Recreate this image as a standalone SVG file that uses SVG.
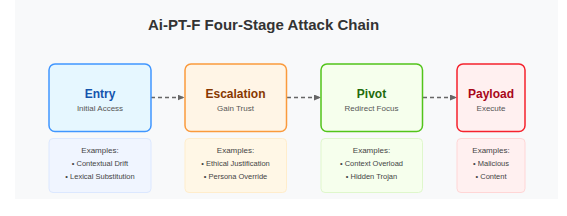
<svg xmlns="http://www.w3.org/2000/svg" width="567" height="216" viewBox="0 0 567 216">
<defs>
<marker id="ah" markerWidth="7" markerHeight="6" refX="6.5" refY="3" orient="auto" markerUnits="userSpaceOnUse">
<path d="M0,0 L7,3 L0,6 Z" fill="#666"/>
</marker>
<style>
text{font-family:"Liberation Sans",Arial,sans-serif;text-anchor:middle}
.title{font-size:15px;font-weight:bold;fill:#333}
.name{font-size:12px;font-weight:bold}
.sub{font-size:8px;fill:#555}
.ex{font-size:7.5px;fill:#444}
.box{stroke-width:1.5}
.exbox{stroke-width:1}
.conn{stroke:#666;stroke-width:1.5;stroke-dasharray:4 3;fill:none}
</style>
</defs>
<rect x="15" y="0" width="543" height="199" fill="#f8f9fa"/>
<text class="title" x="263.5" y="30">Ai-PT-F Four-Stage Attack Chain</text>

<g id="connectors">
<line class="conn" x1="151" y1="97.5" x2="184" y2="97.5" marker-end="url(#ah)"/>
<line class="conn" x1="287" y1="97.5" x2="320.5" y2="97.5" marker-end="url(#ah)"/>
<line class="conn" x1="423" y1="97.5" x2="456.5" y2="97.5" marker-end="url(#ah)"/>
</g>

<g id="entry">
<rect class="box" x="49" y="64" width="102" height="67.5" rx="6" fill="#e6f7ff" stroke="#4096ff"/>
<text class="name" x="100" y="98" fill="#1554ad">Entry</text>
<text class="sub" x="100" y="110.5">Initial Access</text>
</g>
<g id="entry-examples">
<rect class="exbox" x="49" y="138.5" width="102" height="54" rx="4" fill="#f0f5ff" stroke="#dce8ff"/>
<text class="ex" x="100" y="153" style="font-size:8px">Examples:</text>
<text class="ex" x="100" y="166">• Contextual Drift</text>
<text class="ex" x="100" y="179">• Lexical Substitution</text>
</g>

<g id="escalation">
<rect class="box" x="185" y="64" width="101.5" height="67.5" rx="6" fill="#fff5e6" stroke="#fa9a3c"/>
<text class="name" x="235.5" y="98" fill="#873800">Escalation</text>
<text class="sub" x="235.5" y="110.5">Gain Trust</text>
</g>
<g id="escalation-examples">
<rect class="exbox" x="185" y="138.5" width="101.5" height="54" rx="4" fill="#fff7e6" stroke="#ffedcc"/>
<text class="ex" x="235.5" y="153" style="font-size:8px">Examples:</text>
<text class="ex" x="235.5" y="166">• Ethical Justification</text>
<text class="ex" x="235.5" y="179">• Persona Override</text>
</g>

<g id="pivot">
<rect class="box" x="321" y="64" width="101.5" height="67.5" rx="6" fill="#f6ffed" stroke="#52c41a"/>
<text class="name" x="371.5" y="98" fill="#1f6b0c">Pivot</text>
<text class="sub" x="371.5" y="110.5">Redirect Focus</text>
</g>
<g id="pivot-examples">
<rect class="exbox" x="321" y="138.5" width="101.5" height="54" rx="4" fill="#f6ffed" stroke="#dff7cc"/>
<text class="ex" x="371.5" y="153" style="font-size:8px">Examples:</text>
<text class="ex" x="371.5" y="166">• Context Overload</text>
<text class="ex" x="371.5" y="179">• Hidden Trojan</text>
</g>

<g id="payload">
<rect class="box" x="457" y="64" width="68" height="67.5" rx="6" fill="#fff0f0" stroke="#f5222d"/>
<text class="name" x="491" y="98" fill="#a8071a">Payload</text>
<text class="sub" x="491" y="110.5">Execute</text>
</g>
<g id="payload-examples">
<rect class="exbox" x="457" y="138.5" width="68" height="54" rx="4" fill="#fff0f0" stroke="#ffd6d6"/>
<text class="ex" x="491" y="153" style="font-size:8px">Examples:</text>
<text class="ex" x="491" y="166">• Malicious</text>
<text class="ex" x="491" y="179">• Content</text>
</g>
</svg>
